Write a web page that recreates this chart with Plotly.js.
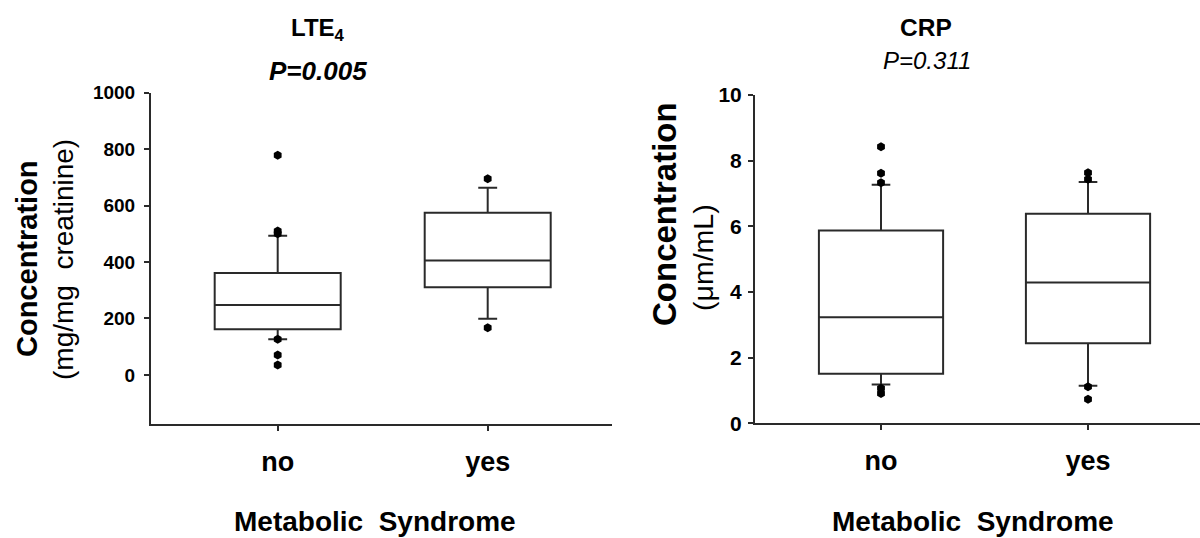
<!DOCTYPE html>
<html>
<head>
<meta charset="utf-8">
<script src="https://cdn.plot.ly/plotly-3.0.1.min.js"></script>
<style>html,body{margin:0;padding:0;background:#fff;}#chart{width:1200px;height:538px;}</style>
</head>
<body>
<div id="chart"></div>
<script>
// ---- data ----
const categories = ["no", "yes"];

// LTE4 (mg/mg creatinine)
const lteQ1 = [162, 311];
const lteMedian = [248, 405];
const lteQ3 = [361, 575];
const lteLowerWhisker = [126, 199];
const lteUpperWhisker = [493, 663];
const lteOutlierGroup = ["no", "no", "no", "no", "no", "no", "yes", "yes"];
const lteOutlierValue = [778, 510, 500, 126, 71, 35, 695, 167];

// CRP (µm/mL)
const crpQ1 = [1.51, 2.44];
const crpMedian = [3.23, 4.29];
const crpQ3 = [5.87, 6.38];
const crpLowerWhisker = [1.18, 1.14];
const crpUpperWhisker = [7.27, 7.35];
const crpOutlierGroup = ["no", "no", "no", "no", "no", "yes", "yes", "yes", "yes"];
const crpOutlierValue = [8.42, 7.62, 7.33, 1.07, 0.91, 7.63, 7.43, 1.11, 0.73];

const lteTicks = [0, 200, 400, 600, 800, 1000];
const crpTicks = [0, 2, 4, 6, 8, 10];

// ---- styling ----
const FONT = "Liberation Sans, Arial, sans-serif";
const LINE = "#2a2a2a";

function boxTrace(q1, med, q3, lo, hi, xa, ya) {
  return {
    type: "box", x: categories, q1: q1, median: med, q3: q3,
    lowerfence: lo, upperfence: hi,
    boxpoints: false, width: 0.6, whiskerwidth: 0.15,
    line: {color: LINE, width: 2}, fillcolor: "rgba(255,255,255,0)",
    xaxis: xa, yaxis: ya, showlegend: false, hoverinfo: "skip"
  };
}
function outlierTrace(xs, ys, xa, ya) {
  return {
    type: "scatter", mode: "markers", x: xs, y: ys,
    marker: {symbol: "hexagon", size: 9, color: "#000"},
    xaxis: xa, yaxis: ya, showlegend: false, hoverinfo: "skip", cliponaxis: false
  };
}

const data = [
  boxTrace(lteQ1, lteMedian, lteQ3, lteLowerWhisker, lteUpperWhisker, "x", "y"),
  outlierTrace(lteOutlierGroup, lteOutlierValue, "x", "y"),
  boxTrace(crpQ1, crpMedian, crpQ3, crpLowerWhisker, crpUpperWhisker, "x2", "y2"),
  outlierTrace(crpOutlierGroup, crpOutlierValue, "x2", "y2")
];

const xCommon = {
  type: "category", showline: true, linecolor: LINE, linewidth: 2,
  ticks: "outside", ticklen: 5, tickwidth: 2, tickcolor: LINE,
  showgrid: false, zeroline: false, automargin: false,
  tickfont: {family: FONT, size: 27, weight: "bold", color: "#000"},
  ticklabelstandoff: 7
};
const yCommon = {
  showline: true, linecolor: LINE, linewidth: 2,
  ticks: "outside", ticklen: 5, tickwidth: 2, tickcolor: LINE,
  showgrid: false, zeroline: false, automargin: false
};

const layout = {
  width: 1200, height: 538,
  margin: {l: 0, r: 0, t: 0, b: 0},
  paper_bgcolor: "#fff", plot_bgcolor: "rgba(0,0,0,0)",
  showlegend: false,
  xaxis: Object.assign({}, xCommon, {domain: [151/1200, 612/1200], range: [-0.6033, 1.5919], anchor: "y"}),
  yaxis: Object.assign({}, yCommon, {domain: [(538-424.3)/538, (538-92.7)/538], range: [-175, 1000],
    tickvals: lteTicks, ticktext: lteTicks.map(String), anchor: "x", ticklabelstandoff: 5,
    tickfont: {family: FONT, size: 19, weight: "bold", color: "#000"}}),
  xaxis2: Object.assign({}, xCommon, {domain: [755/1200, 1], range: [-0.6087, 1.541], anchor: "y2"}),
  yaxis2: Object.assign({}, yCommon, {domain: [(538-423.3)/538, (538-95)/538], range: [0, 10],
    tickvals: crpTicks, ticktext: crpTicks.map(String), anchor: "x2", ticklabelstandoff: 2,
    tickfont: {family: FONT, size: 21, weight: "bold", color: "#000"}}),
  annotations: [
    {text: "<b>LTE<sub>4</sub></b>", x: 318, y: 29, font: {family: FONT, size: 24, color: "#000"}},
    {text: "<b><i>P=0.005</i></b>", x: 318, y: 71, font: {family: FONT, size: 26, color: "#000"}},
    {text: "<b>CRP</b>", x: 926, y: 28, font: {family: FONT, size: 24.5, color: "#000"}},
    {text: "<i>P=0.311</i>", x: 927, y: 61, font: {family: FONT, size: 24, color: "#000"}},
    {text: "<b>Concentration</b>", x: 27, y: 259, textangle: -90, font: {family: FONT, size: 29, color: "#000"}},
    {text: "(mg/mg  creatinine)", x: 63, y: 260, textangle: -90, font: {family: FONT, size: 28, color: "#000"}},
    {text: "<b>Concentration</b>", x: 664, y: 214, textangle: -90, font: {family: FONT, size: 33, color: "#000"}},
    {text: "(μm/mL)", x: 703, y: 258, textangle: -90, font: {family: FONT, size: 28.5, color: "#000"}},
    {text: "<b>Metabolic  Syndrome</b>", x: 375, y: 521, font: {family: FONT, size: 28, color: "#000"}},
    {text: "<b>Metabolic  Syndrome</b>", x: 973, y: 521, font: {family: FONT, size: 28, color: "#000"}}
  ].map(a => Object.assign({xref: "paper", yref: "paper", showarrow: false, xanchor: "center", yanchor: "middle"}, a,
      {x: a.x / 1200, y: 1 - a.y / 538}))
};

Plotly.newPlot("chart", data, layout, {staticPlot: true, displayModeBar: false});
</script>
</body>
</html>
